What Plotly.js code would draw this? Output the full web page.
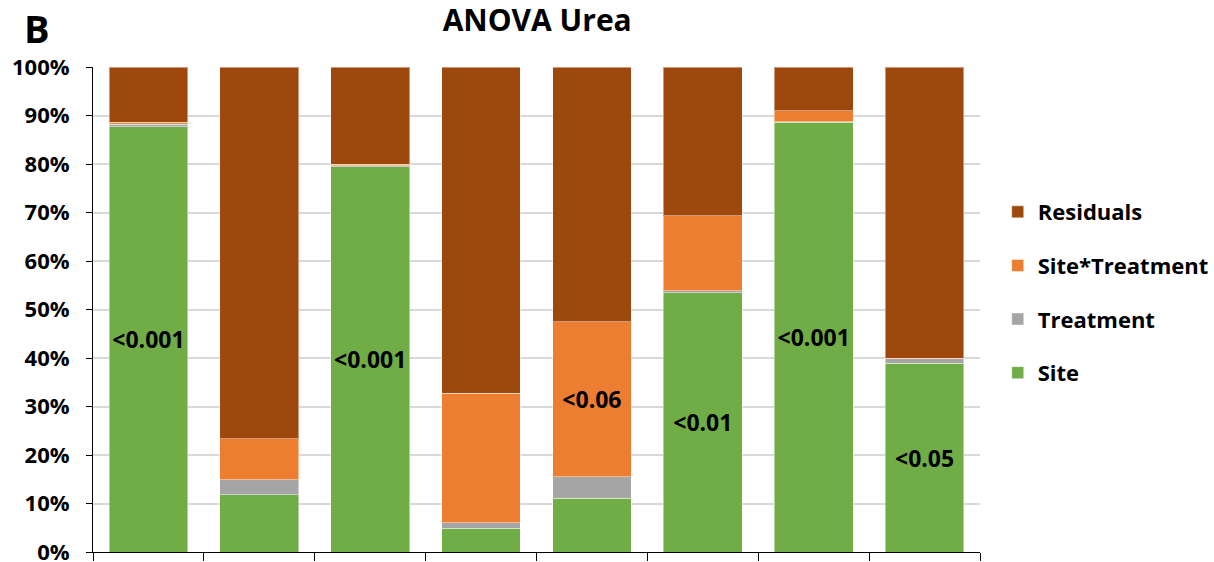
<!DOCTYPE html>
<html>
<head>
<meta charset="utf-8">
<script src="https://cdn.plot.ly/plotly-3.0.1.min.js"></script>
<style>html,body{margin:0;padding:0;background:#fff;}#chart{width:1214px;height:562px;}</style>
</head>
<body>
<div id="chart"></div>
<script>
const categories = ['1','2','3','4','5','6','7','8'];
const site = [0.877, 0.118, 0.794, 0.049, 0.111, 0.535, 0.886, 0.389];
const treatment = [0.005, 0.031, 0.002, 0.011, 0.044, 0.004, 0.001, 0.009];
const siteTreatment = [0.004, 0.085, 0.003, 0.267, 0.320, 0.154, 0.023, 0.002];
const residuals = site.map((v, i) => +(1 - v - treatment[i] - siteTreatment[i]).toFixed(3));
const siteLabels = ['<0.001', '', '<0.001', '', '', '<0.01', '<0.001', '<0.05'];
const sxtLabels = ['', '', '', '', '<0.06', '', '', ''];

const FONT = '"Open Sans", sans-serif';
const lineStyle = {color: 'rgba(255,255,255,0.45)', width: 1};
function tr(name, y, color, text, group, rank) {
  return {
    type: 'bar', name: name, x: categories, y: y,
    marker: {color: color, line: lineStyle},
    text: text || undefined,
    textposition: text ? 'inside' : 'none',
    insidetextanchor: 'middle',
    textangle: 0,
    textfont: {family: FONT, size: 23, color: '#000', weight: 700},
    constraintext: 'none',
    legendgroup: group, legendrank: rank,
    hoverinfo: 'none'
  };
}
const data = [
  tr('Site', site, '#70AD47', siteLabels, 'g1', 4),
  tr('Treatment', treatment, '#A5A5A5', null, 'g2', 3),
  tr('Site*Treatment', siteTreatment, '#ED7D31', sxtLabels, 'g3', 2),
  tr('Residuals', residuals, '#9E480E', null, 'g4', 1)
];
const layout = {
  width: 1214, height: 562,
  margin: {l: 93, r: 234, t: 67, b: 10, autoexpand: false},
  barmode: 'stack', bargap: 0.29,
  paper_bgcolor: '#fff', plot_bgcolor: '#fff',
  font: {family: FONT, color: '#000'},
  title: {text: '<b>ANOVA Urea</b>', x: 0.4425, xanchor: 'center', y: 0.963, yanchor: 'middle',
          font: {family: FONT, size: 30, color: '#000'}},
  xaxis: {
    type: 'category', showticklabels: false, tickson: 'boundaries',
    ticks: 'outside', ticklen: 8, tickcolor: '#000', tickwidth: 1,
    showline: true, linecolor: '#000', linewidth: 1, showgrid: false, zeroline: false,
    fixedrange: true
  },
  yaxis: {
    range: [0, 1], dtick: 0.1, tick0: 0, tickformat: '.0%',
    ticks: 'outside', ticklen: 6, tickcolor: '#000', tickwidth: 1,
    showline: true, linecolor: '#000', linewidth: 1,
    gridcolor: '#d9d9d9', gridwidth: 2, zeroline: false,
    tickfont: {family: FONT, size: 22, color: '#000', weight: 700},
    ticklabelstandoff: 12, ticklabeloverflow: 'allow', fixedrange: true
  },
  legend: {
    x: 1.02, xanchor: 'left', y: 0.535, yanchor: 'middle',
    traceorder: 'grouped', tracegroupgap: 22,
    font: {family: FONT, size: 22, color: '#000', weight: 700},
    itemwidth: 30, bgcolor: 'rgba(0,0,0,0)'
  },
  annotations: [{
    text: '<b>B</b>', xref: 'paper', yref: 'paper', x: -0.063, y: 1.08,
    xanchor: 'center', yanchor: 'middle', showarrow: false,
    font: {family: FONT, size: 38, color: '#000'}
  }],
  showlegend: true
};
Plotly.newPlot('chart', data, layout, {displayModeBar: false, staticPlot: true});
</script>
</body>
</html>
